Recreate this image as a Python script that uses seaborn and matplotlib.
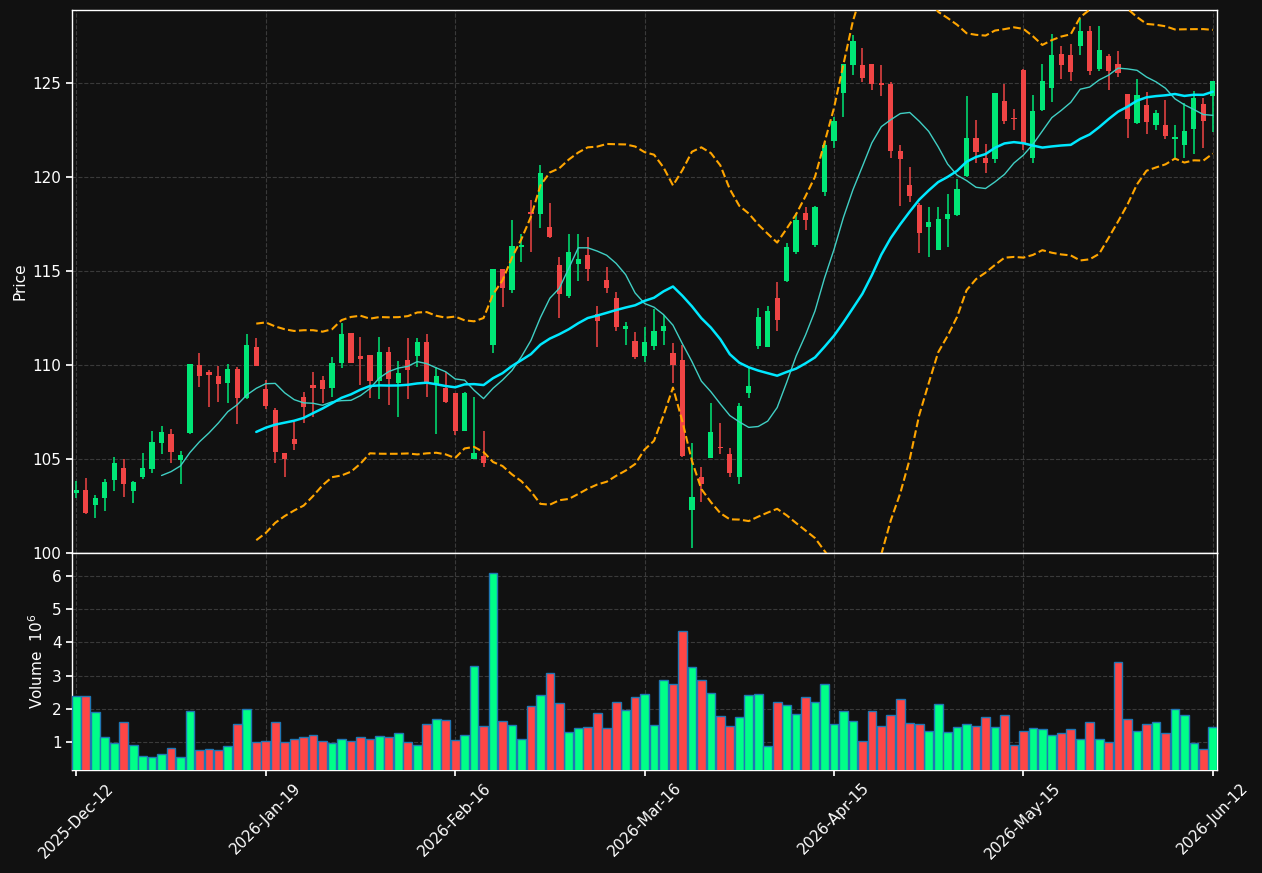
import numpy as np
import pandas as pd
import matplotlib
matplotlib.use('Agg')
import matplotlib.pyplot as plt
import seaborn as sns

# daily OHLC (index 0..120)
opens = [103.20, 103.35, 102.55, 102.94, 103.88, 104.52, 103.30, 104.04, 104.47, 105.87,
         106.33, 104.96, 106.40, 110.02, 109.63, 109.41, 109.04, 109.79, 108.24, 110.97,
         108.72, 107.61, 105.32, 106.06, 108.30, 108.94, 109.19, 108.76, 110.12, 111.69,
         110.48, 110.53, 109.15, 110.69, 109.03, 110.27, 110.48, 111.22, 108.99, 108.78,
         108.49, 106.51, 105.02, 105.16, 111.08, 115.11, 113.99, 116.29, 118.12, 118.03,
         117.36, 115.32, 113.67, 115.37, 115.85, 112.71, 114.52, 113.58, 111.90, 111.28,
         110.50, 111.01, 111.81, 110.62, 110.27, 102.29, 104.03, 105.07, 105.64, 105.27,
         104.06, 108.53, 111.03, 110.97, 113.55, 114.50, 116.00, 118.10, 116.40, 119.20,
         121.93, 124.48, 125.96, 125.96, 126.01, 125.02, 124.95, 121.38, 119.57, 118.51,
         117.36, 116.12, 117.77, 117.98, 120.05, 122.09, 121.03, 120.96, 124.06, 123.14,
         125.69, 121.03, 123.56, 124.75, 126.54, 126.49, 126.97, 127.77, 125.74, 126.44,
         126.01, 124.41, 122.86, 123.83, 122.80, 122.77, 122.01, 121.70, 122.55, 123.92,
         124.31]
highs = [103.85, 103.99, 103.09, 103.94, 105.11, 104.98, 103.85, 105.30, 106.49, 106.74,
         106.60, 105.43, 110.08, 110.62, 109.72, 109.95, 110.05, 109.91, 111.65, 111.42,
         109.20, 107.70, 105.34, 106.95, 108.55, 109.61, 109.43, 110.41, 112.22, 111.72,
         111.47, 110.55, 111.47, 110.94, 110.23, 111.42, 111.42, 111.65, 109.88, 109.64,
         108.52, 108.55, 108.31, 106.51, 115.13, 115.13, 117.71, 117.00, 118.78, 120.64,
         118.60, 115.76, 116.97, 116.97, 116.83, 113.14, 115.23, 113.90, 112.30, 111.74,
         112.04, 112.96, 112.66, 111.15, 111.06, 105.84, 104.59, 107.96, 106.90, 105.57,
         107.96, 109.82, 113.02, 113.14, 114.40, 116.50, 118.10, 118.40, 118.45, 121.90,
         123.21, 126.05, 127.55, 126.85, 126.03, 125.96, 125.07, 121.70, 120.55, 118.60,
         118.39, 118.39, 119.10, 119.88, 124.31, 123.03, 121.74, 124.50, 124.98, 123.62,
         125.78, 124.36, 126.01, 127.64, 126.97, 127.07, 128.40, 128.03, 128.03, 126.58,
         126.72, 124.43, 125.20, 124.54, 123.60, 124.10, 122.77, 123.97, 124.59, 124.24,
         125.11]
lows = [102.93, 102.10, 101.85, 102.25, 103.31, 102.99, 102.68, 103.94, 104.27, 105.28,
        104.77, 103.66, 106.35, 108.85, 107.78, 108.05, 107.96, 106.86, 108.18, 109.93,
        107.68, 104.77, 104.06, 105.48, 106.90, 107.25, 107.96, 108.31, 109.82, 110.10,
        108.94, 108.23, 108.18, 107.87, 107.22, 108.18, 109.88, 108.31, 106.33, 107.96,
        106.28, 106.49, 104.99, 104.56, 110.62, 113.07, 113.81, 115.49, 116.03, 117.30,
        116.74, 112.48, 113.55, 114.49, 114.49, 110.97, 113.85, 111.83, 111.06, 110.30,
        110.18, 110.80, 111.06, 109.03, 105.10, 100.25, 102.73, 105.05, 105.25, 104.03,
        103.67, 108.23, 110.83, 110.95, 111.83, 114.40, 115.90, 117.20, 116.30, 119.00,
        121.53, 123.21, 125.46, 125.07, 124.63, 124.33, 121.03, 118.47, 118.69, 115.97,
        115.73, 116.10, 116.26, 117.96, 120.03, 120.76, 120.23, 120.78, 122.82, 122.50,
        121.44, 120.76, 123.54, 124.01, 125.25, 125.12, 126.49, 125.43, 125.65, 124.66,
        125.34, 122.11, 122.84, 122.32, 122.50, 122.02, 121.00, 121.00, 121.26, 121.53,
        122.41]
closes = [103.35, 102.14, 102.91, 103.76, 104.79, 103.69, 103.76, 104.52, 105.89, 106.42,
          105.39, 105.21, 110.05, 109.43, 109.49, 109.01, 109.79, 108.24, 111.06, 109.95,
          107.84, 105.39, 105.02, 105.81, 107.78, 108.79, 108.72, 110.11, 111.65, 110.12,
          110.34, 109.15, 110.69, 109.24, 109.59, 109.73, 111.22, 109.03, 109.41, 108.05,
          106.51, 108.49, 105.30, 104.80, 115.11, 114.11, 116.33, 116.38, 118.02, 120.20,
          116.83, 113.78, 116.01, 115.64, 115.11, 112.36, 114.11, 112.04, 112.07, 110.44,
          111.21, 111.81, 112.07, 110.00, 105.18, 102.96, 103.65, 106.42, 105.58, 104.27,
          107.82, 108.88, 112.54, 112.87, 112.39, 116.30, 117.70, 117.70, 118.40, 121.70,
          122.99, 126.01, 127.23, 125.28, 124.95, 124.93, 121.40, 120.96, 118.99, 117.04,
          117.59, 117.80, 118.03, 119.36, 122.09, 121.35, 120.76, 124.48, 122.98, 123.09,
          121.80, 123.53, 125.11, 126.49, 125.96, 125.60, 127.77, 125.64, 126.76, 125.65,
          125.52, 123.12, 124.36, 122.94, 123.39, 122.20, 122.13, 122.45, 124.24, 122.98,
          125.11]
# volume in millions
volumes = [2.39, 2.39, 1.91, 1.16, 0.98, 1.61, 0.92, 0.59, 0.56, 0.65,
           0.83, 0.56, 1.94, 0.77, 0.80, 0.77, 0.89, 1.55, 2.00, 1.01,
           1.04, 1.61, 1.01, 1.10, 1.16, 1.22, 1.04, 0.98, 1.10, 1.04,
           1.16, 1.10, 1.19, 1.16, 1.28, 1.01, 0.92, 1.55, 1.70, 1.67,
           1.07, 1.22, 3.29, 1.49, 6.08, 1.64, 1.52, 1.10, 2.09, 2.42,
           3.08, 2.18, 1.31, 1.43, 1.46, 1.88, 1.43, 2.21, 1.97, 2.36,
           2.45, 1.52, 2.87, 2.75, 4.34, 3.26, 2.87, 2.48, 1.79, 1.49,
           1.76, 2.42, 2.45, 0.89, 2.21, 2.12, 1.85, 2.36, 2.21, 2.75,
           1.55, 1.94, 1.64, 1.04, 1.94, 1.49, 1.82, 2.30, 1.58, 1.55,
           1.34, 2.15, 1.31, 1.46, 1.55, 1.49, 1.76, 1.46, 1.82, 0.92,
           1.34, 1.43, 1.40, 1.22, 1.28, 1.40, 1.10, 1.61, 1.10, 1.01,
           3.41, 1.70, 1.34, 1.55, 1.61, 1.28, 2.00, 1.82, 0.98, 0.80,
           1.46]
tick_pos = [0, 20, 40, 60, 80, 100, 120]
tick_labels = ['2025-Dec-12', '2026-Jan-19', '2026-Feb-16', '2026-Mar-16',
               '2026-Apr-15', '2026-May-15', '2026-Jun-12']

bg = '#111111'
sns.set_theme(style='darkgrid', rc={
    'figure.facecolor': bg, 'axes.facecolor': bg, 'axes.edgecolor': 'white',
    'grid.color': '#3a3a3a', 'grid.linestyle': '--', 'grid.linewidth': 0.8,
    'text.color': 'white', 'axes.labelcolor': 'white',
    'xtick.color': 'white', 'ytick.color': 'white',
    'xtick.bottom': True, 'ytick.left': True,
})
plt.rcParams['font.family'] = ['DejaVu Sans']

df = pd.DataFrame({'open': opens, 'high': highs, 'low': lows,
                   'close': closes, 'volume': volumes})
df['idx'] = np.arange(len(df))
df['dir'] = np.where(df['close'] >= df['open'], 'up', 'down')
df['ma10'] = df['close'].rolling(10).mean()
df['ma20'] = df['close'].rolling(20).mean()
sd = df['close'].rolling(20).std()
df['bb_up'] = df['ma20'] + 2 * sd
df['bb_lo'] = df['ma20'] - 2 * sd

fig = plt.figure(figsize=(12.62, 8.73), dpi=100)
ax1 = fig.add_axes([0.0571, 0.3666, 0.9073, 0.6220])
ax2 = fig.add_axes([0.0571, 0.1180, 0.9073, 0.2486], sharex=ax1)

# candles
ccol = np.where(df['dir'] == 'up', '#00e676', '#f04545')
ax1.vlines(df['idx'], df['low'], df['high'], colors=ccol, linewidth=1.1, zorder=2)
body_lo = np.minimum(df['open'], df['close'])
body_h = np.maximum((df['close'] - df['open']).abs(), 0.06)
ax1.bar(df['idx'], body_h, bottom=body_lo, width=0.55, color=ccol, linewidth=0, zorder=3)

# moving averages and bands
sns.lineplot(data=df, x='idx', y='ma10', ax=ax1, color='#40cfc4', linewidth=1.0, zorder=4)
sns.lineplot(data=df, x='idx', y='ma20', ax=ax1, color='#00e8ff', linewidth=1.8, zorder=4)
sns.lineplot(data=df, x='idx', y='bb_up', ax=ax1, color='#ffa500', linewidth=1.5,
             linestyle='--', zorder=4)
sns.lineplot(data=df, x='idx', y='bb_lo', ax=ax1, color='#ffa500', linewidth=1.5,
             linestyle='--', zorder=4)

# volume
sns.barplot(data=df, x='idx', y='volume', hue='dir', ax=ax2, native_scale=True,
            palette={'up': '#00ff88', 'down': '#ff4646'}, saturation=1, dodge=False,
            width=0.92, edgecolor='#1f77b4', linewidth=1.0, legend=False, zorder=3)

ax1.set_xlim(-0.45, 120.45)
ax1.set_ylim(100, 128.9)
ax1.set_yticks([100, 105, 110, 115, 120, 125])
ax1.set_ylabel('Price', fontsize=11)
ax1.set_xlabel('')
ax1.tick_params(axis='x', labelbottom=False, length=0)
ax1.tick_params(axis='y', labelsize=11, length=4)

ax2.set_ylim(0.3 * min(volumes), 1.1 * max(volumes))
ax2.set_yticks([1, 2, 3, 4, 5, 6])
ax2.set_ylabel('Volume  $10^{6}$', fontsize=11)
ax2.set_xlabel('')
ax2.set_xticks(tick_pos)
ax2.set_xticklabels(tick_labels, fontsize=11)
ax2.tick_params(axis='x', rotation=45)
ax2.tick_params(axis='both', labelsize=11, length=4)
ax2.set_xlim(-0.45, 120.45)

for ax in (ax1, ax2):
    ax.grid(True, axis='both')
    for s in ax.spines.values():
        s.set_color('white')
        s.set_linewidth(1.0)

fig.savefig('out.png', dpi=100, facecolor=bg)
